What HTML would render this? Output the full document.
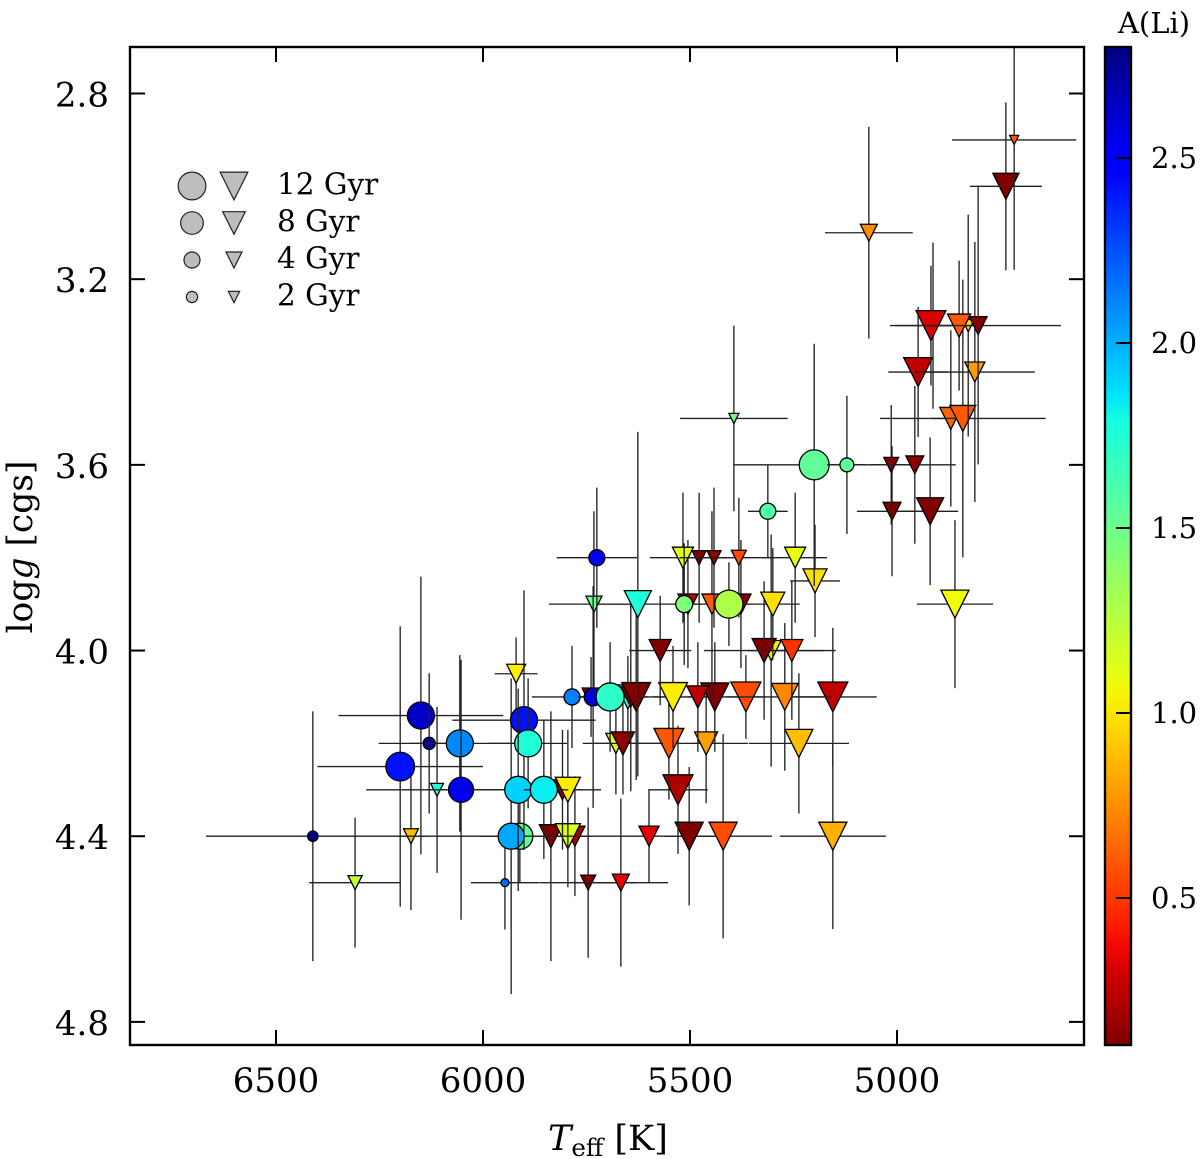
<!DOCTYPE html>
<html lang="en">
<head>
<meta charset="utf-8">
<title>Lithium abundance in the Teff - log g plane</title>
<style>
  html, body { margin: 0; padding: 0; background: #fff; }
  #chart { display: block; width: 1200px; height: 1159px; font-family: "DejaVu Serif", "Liberation Serif", serif; }
</style>
</head>
<body>
<svg id="chart" xmlns="http://www.w3.org/2000/svg" width="1200" height="1159" viewBox="0 0 1200 1159">
  <defs>
    <linearGradient id="jetGradient" x1="0" y1="0" x2="0" y2="1"></linearGradient>
    <clipPath id="plotClip"><rect x="130" y="47" width="954" height="998"></rect></clipPath>
  </defs>
  <rect x="0" y="0" width="1200" height="1159" fill="#fff"></rect>
  <g id="marks" clip-path="url(#plotClip)"></g>
  <rect x="130" y="47" width="954" height="998" fill="none" stroke="#000" stroke-width="2.4"></rect>
  <g id="axes"></g>
  <g id="legend"></g>
  <g id="colorbar"></g>
  <text x="548" y="1150" font-size="35" fill="#000"><tspan font-style="italic">T</tspan><tspan font-size="24.5" dy="6">eff</tspan><tspan dy="-6"> [K]</tspan></text>
  <text transform="translate(32,547) rotate(-90)" text-anchor="middle" font-size="34.5" fill="#000">log<tspan font-style="italic">g</tspan> [cgs]</text>
  <text x="1154" y="33" text-anchor="middle" font-size="29" fill="#000">A(Li)</text>
</svg>
<script>
// Star measurements, drawn in this order (triangles = upper limits, circles = detections)
const shape = ['t','t','t','t','t','t','t','t','t','t','t','t','t','t','t','t','t','t','t','t','t','t','t','t','t','t','t','t','t','t','t','t','t','t','t','t','t','t','t','t','t','t','t','t','t','t','t','t','t','t','t','t','t','t','t','t','t','t','t','t','t','t','t','t','t',
  'c','c','c','c','c','c','c','c','c','c','c','c','c','c','c','c','c','c','c','c','c','c'];
const teff = [6174,5836,5778,5795,6309,5746,5667,5599,5420,5502,5155,5529,5920,6111,5808,5795,5551,5679,5662,5461,5237,5650,5643,5739,5630,5440,5481,5541,5365,5155,5271,5304,5321,5254,5572,5732,5626,5505,5447,5377,5300,4860,5198,5517,5478,5442,5382,5246,5012,4920,5014,4957,5394,4870,4841,4949,4812,4913,4918,4828,4850,4804,5068,4737,4717,
  6411,6200,6150,6130,6056,6053,5947,5911,5932,5901,5891,5915,5853,5785,5734,5725,5693,5514,5406,5312,5200,5121];
const logg = [4.4,4.4,4.4,4.4,4.5,4.5,4.5,4.4,4.4,4.4,4.4,4.3,4.05,4.3,4.3,4.3,4.2,4.2,4.2,4.2,4.2,4.1,4.1,4.1,4.1,4.1,4.1,4.1,4.1,4.1,4.1,4.0,4.0,4.0,4.0,3.9,3.9,3.9,3.9,3.9,3.9,3.9,3.85,3.8,3.8,3.8,3.8,3.8,3.7,3.7,3.6,3.6,3.5,3.5,3.5,3.4,3.4,3.3,3.3,3.3,3.3,3.3,3.1,3.0,2.9,
  4.4,4.25,4.14,4.2,4.2,4.3,4.5,4.4,4.4,4.15,4.2,4.3,4.3,4.1,4.1,3.8,4.1,3.9,3.9,3.7,3.6,3.6];
const teffErr = [36,48,43,48,111,118,114,116,118,60,128,72,52,24,48,80,191,24,97,36,121,48,24,36,72,60,24,48,48,106,111,36,145,106,75,109,97,36,48,24,65,92,60,80,48,48,72,77,85,68,48,99,130,48,200,72,145,24,99,24,48,200,106,87,150,
  258,200,199,43,196,229,82,97,217,173,94,121,48,97,36,97,36,24,24,48,193,48];
const loggErr = [0.159,0.269,0.129,0.110,0.140,0.162,0.181,0.099,0.220,0.149,0.200,0.138,0.078,0.179,0.129,0.129,0.121,0.110,0.110,0.129,0.151,0.088,0.203,0.086,0.179,0.118,0.118,0.110,0.090,0.149,0.159,0.250,0.149,0.149,0.118,0.200,0.371,0.138,0.200,0.138,0.121,0.181,0.121,0.140,0.140,0.151,0.129,0.140,0.140,0.159,0.129,0.170,0.200,0.190,0.299,0.140,0.280,0.179,0.129,0.239,0.140,0.299,0.228,0.181,0.280,
  0.269,0.302,0.299,0.151,0.190,0.280,0.101,0.099,0.340,0.280,0.140,0.218,0.149,0.110,0.239,0.151,0.118,0.131,0.090,0.099,0.261,0.149];
const ageGyr = [3.5,8.3,6.3,9.8,3.1,3.5,4.5,6.3,12.3,12.3,12.3,14,5.6,2.6,6.3,9.8,14,6.3,8.3,8.3,12.3,9,6.3,5,13,12.3,7.6,13,14,14,11.4,6.3,9,7.6,7.6,4,11.4,6.3,6.3,6.3,9,12.3,9,6.9,3.1,3.1,3.5,6.9,5,11.4,3.5,5,1.6,7.6,10.6,13,6.3,6.3,14,2.3,8.3,5,4.5,10.6,1.3,
  1.7,12.8,11.4,2.3,11.4,9.8,1,10.6,10.6,11.4,11.4,11.4,11.4,4,5,4,12.3,4.5,12.3,4,14,3];
const aLi = [0.89,0.10,0.21,1.12,1.20,0.10,0.34,0.34,0.56,0.10,0.85,0.21,1.02,1.76,0.13,1.02,0.59,1.12,0.14,0.80,0.89,1.76,0.10,0.14,0.10,0.10,0.25,1.02,0.56,0.25,0.73,1.02,0.10,0.48,0.10,1.49,1.76,0.25,0.60,0.13,0.98,1.07,0.98,1.12,0.10,0.14,0.56,1.09,0.10,0.10,0.10,0.14,1.49,0.63,0.60,0.25,0.79,0.31,0.31,0.98,0.60,0.10,0.75,0.10,0.60,
  2.80,2.42,2.63,2.75,2.10,2.54,2.17,1.54,2.02,2.42,1.75,1.91,1.83,2.12,2.61,2.54,1.70,1.44,1.28,1.60,1.54,1.54];

// Axis ticks and legend
const xTicks = [6500,6000,5500,5000];
const yTicks = [2.8,3.2,3.6,4.0,4.4,4.8];
const colorTicks = [0.5,1.0,1.5,2.0,2.5];
const legendAges = [12,8,4,2];
const legendLabels = ['12 Gyr','8 Gyr','4 Gyr','2 Gyr'];

const NS = 'http://www.w3.org/2000/svg';
const xScale = t => 483 + (6000 - t) * 0.414;
const yScale = g => 93.5 + (g - 2.8) * 464.2;
const sizeScale = a => 8 * Math.sqrt(a);
const cbY = v => 158 + (2.5 - v) * 370;

function interp(t, pts) {
  for (let i = 1; i < pts.length; i++) {
    if (t <= pts[i][0]) {
      const f = (t - pts[i-1][0]) / (pts[i][0] - pts[i-1][0]);
      return pts[i-1][1] + f * (pts[i][1] - pts[i-1][1]);
    }
  }
  return pts[pts.length-1][1];
}
function jet(t) {
  const r = interp(t, [[0,0],[0.35,0],[0.66,1],[0.89,1],[1,0.5]]);
  const g = interp(t, [[0,0],[0.125,0],[0.375,1],[0.64,1],[0.91,0],[1,0]]);
  const b = interp(t, [[0,0.5],[0.11,1],[0.34,1],[0.65,0],[1,0]]);
  return 'rgb(' + Math.round(r*255) + ',' + Math.round(g*255) + ',' + Math.round(b*255) + ')';
}
const colorScale = v => jet(Math.min(1, Math.max(0, (2.8 - v) / 2.7)));

function make(tag, parent, attrs) {
  const el = document.createElementNS(NS, tag);
  for (const k in attrs) el.setAttribute(k, attrs[k]);
  parent.appendChild(el);
  return el;
}
function triPoints(cx, cy, w) {
  return (cx - w/2) + ',' + (cy - w/2) + ' ' + (cx + w/2) + ',' + (cy - w/2) + ' ' + cx + ',' + (cy + w/2);
}

// Series
const marks = document.getElementById('marks');
teff.forEach((t, i) => {
  const px = xScale(t), py = yScale(logg[i]);
  const hx = teffErr[i] * 0.414, hy = loggErr[i] * 464.2;
  const g = make('g', marks, {});
  
  
  const attrs = { stroke: '#222', 'stroke-width': 1.35 };
  const ex = make('line', g, Object.assign({ x1: px - hx, x2: px + hx, y1: py, y2: py }, attrs));
  
  
  const ey = make('line', g, Object.assign({ x1: px, x2: px, y1: py - hy, y2: py + hy }, attrs));
  
  
  const d = sizeScale(ageGyr[i]);
  const style = { fill: colorScale(aLi[i]), stroke: '#000', 'stroke-width': 1.3, 'stroke-linejoin': 'miter' };
  const m = shape[i] === 'c'
    ? make('circle', g, Object.assign({ cx: px, cy: py, r: d / 2 }, style))
    : make('polygon', g, Object.assign({ points: triPoints(px, py, d) }, style));
  
  
});

// Axes ticks and labels
const axes = document.getElementById('axes');
xTicks.forEach(v => {
  const x = xScale(v);
  const top = make('line', axes, { x1: x, x2: x, y1: 47, y2: 62, stroke: '#000', 'stroke-width': 2 });
  
  
  const bot = make('line', axes, { x1: x, x2: x, y1: 1045, y2: 1030, stroke: '#000', 'stroke-width': 2 });
  
  
  const lab = make('text', axes, { x: x, y: 1092, 'text-anchor': 'middle', 'font-size': 34, fill: '#000' });
  
  
  lab.textContent = String(v);
});
yTicks.forEach(v => {
  const y = yScale(v);
  const left = make('line', axes, { x1: 130, x2: 145, y1: y, y2: y, stroke: '#000', 'stroke-width': 2 });
  
  
  const right = make('line', axes, { x1: 1084, x2: 1069, y1: y, y2: y, stroke: '#000', 'stroke-width': 2 });
  
  
  const lab = make('text', axes, { x: 109, y: y + 13, 'text-anchor': 'end', 'font-size': 34, fill: '#000' });
  
  
  lab.textContent = v.toFixed(1);
});

// Legend
const legend = document.getElementById('legend');
legendAges.forEach((a, i) => {
  const y = 186 + i * 37;
  const d = sizeScale(a);
  const c = make('circle', legend, { cx: 192, cy: y, r: d / 2, fill: '#bdbdbd', stroke: '#222', 'stroke-width': 1.2 });
  
  
  const t = make('polygon', legend, { points: triPoints(234, y, d), fill: '#bdbdbd', stroke: '#222', 'stroke-width': 1.2 });
  
  
  const lab = make('text', legend, { x: 277, y: y + 8.5, 'font-size': 29.5, fill: '#000' });
  
  
  lab.textContent = legendLabels[i];
});

// Colorbar (top = high A(Li), jet reversed)
const grad = document.getElementById('jetGradient');
for (let i = 0; i <= 40; i++) {
  make('stop', grad, { offset: (i / 40), 'stop-color': jet(i / 40) });
}
const cb = document.getElementById('colorbar');
const cbRect = make('rect', cb, { x: 1105, y: 47, width: 26, height: 998, fill: 'url(#jetGradient)', stroke: '#000', 'stroke-width': 2.4 });


colorTicks.forEach(v => {
  const y = cbY(v);
  const tick = make('line', cb, { x1: 1116, x2: 1131, y1: y, y2: y, stroke: '#000', 'stroke-width': 2 });
  
  
  const lab = make('text', cb, { x: 1151, y: y + 10, 'font-size': 29, fill: '#000' });
  
  
  lab.textContent = v.toFixed(1);
});
</script>
</body>
</html>
